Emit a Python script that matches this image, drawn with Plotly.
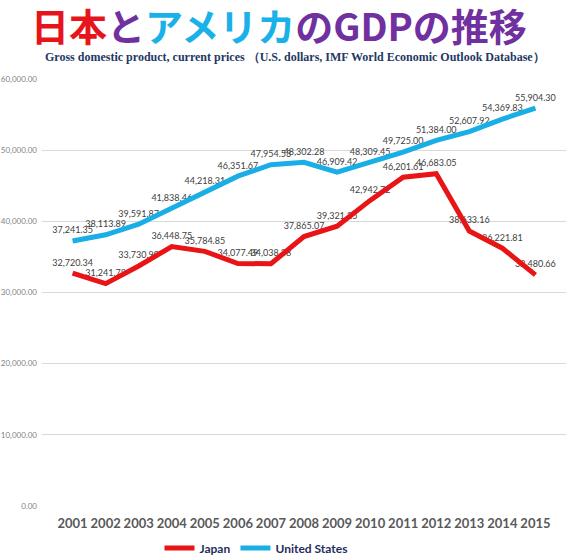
import plotly.graph_objects as go

years = ["2001", "2002", "2003", "2004", "2005", "2006", "2007", "2008",
         "2009", "2010", "2011", "2012", "2013", "2014", "2015"]
japan = [32720.34, 31241.78, 33730.90, 36448.75, 35784.85, 34077.49, 34038.38,
         37865.07, 39321.25, 42942.72, 46201.61, 46683.05, 38633.16, 36221.81, 32480.66]
usa = [37241.35, 38113.89, 39591.87, 41838.46, 44218.31, 46351.67, 47954.53,
       48302.28, 46909.42, 48309.45, 49725.00, 51384.00, 52607.92, 54369.83, 55904.30]

RED = "#e81416"
BLUE = "#19aee6"
FONT = "Lato, Liberation Sans, sans-serif"

def fmt(v):
    return f"{v:,.2f}"

fig = go.Figure()

# labels first so that lines are drawn over them (invisible markers set the label offset)
for vals in (japan, usa):
    fig.add_trace(go.Scatter(
        x=years, y=vals, mode="markers+text", text=[fmt(v) for v in vals],
        textposition="top center",
        marker=dict(size=7, opacity=0),
        textfont=dict(family=FONT, size=9, color="#404040"),
        showlegend=False, hoverinfo="skip", cliponaxis=False))

fig.add_trace(go.Scatter(x=years, y=japan, mode="lines", name="Japan",
                         line=dict(color=RED, width=5)))
fig.add_trace(go.Scatter(x=years, y=usa, mode="lines", name="United States",
                         line=dict(color=BLUE, width=5)))

title = ('<b><span style="color:#e8141c">日本</span>'
         '<span style="color:#7030a0">と</span>'
         '<span style="color:#1ab0e8">アメリカ</span>'
         '<span style="color:#7030a0">のGDPの推移</span></b>')

fig.update_layout(
    width=571, height=556,
    margin=dict(l=42, r=5, t=79, b=50),
    paper_bgcolor="white", plot_bgcolor="white",
    showlegend=True,
    legend=dict(orientation="h", x=(256 - 42) / 524, xanchor="center",
                yref="container", y=(556 - 548) / 556, yanchor="middle",
                font=dict(family=FONT, size=12, color="#1f2d5c", weight="bold"),
                itemwidth=30, tracegroupgap=0),
    xaxis=dict(type="category", showgrid=False, showline=False, zeroline=False,
               ticks="", automargin=False,
               tickfont=dict(family=FONT, size=13, color="#595959", weight="bold"),
               ticklabelstandoff=8),
    yaxis=dict(range=[0, 60000], dtick=10000, tickformat=",.2f",
               showgrid=True, gridcolor="#d9d9d9", gridwidth=1,
               zeroline=False, showline=False, ticks="", automargin=False,
               tickfont=dict(family=FONT, size=8, color="#7f7f7f"),
               ticklabelstandoff=4),
    annotations=[
        dict(text=title, xref="paper", yref="paper", x=(279 - 42) / 524,
             y=(506 - 24) / 427, xanchor="center", yanchor="middle", showarrow=False,
             font=dict(family="Noto Sans CJK JP", size=38)),
        dict(text="<b>Gross domestic product, current prices （U.S. dollars, IMF World Economic Outlook Database）</b>",
             xref="paper", yref="paper", x=(295 - 42) / 524, y=(506 - 57) / 427,
             xanchor="center", yanchor="middle", showarrow=False,
             font=dict(family="Liberation Serif", size=12, color="#1f3864")),
    ],
)

fig.write_html("out.html", config={"displayModeBar": False},
               post_script="document.body.style.margin='0';document.body.style.overflow='hidden';")
